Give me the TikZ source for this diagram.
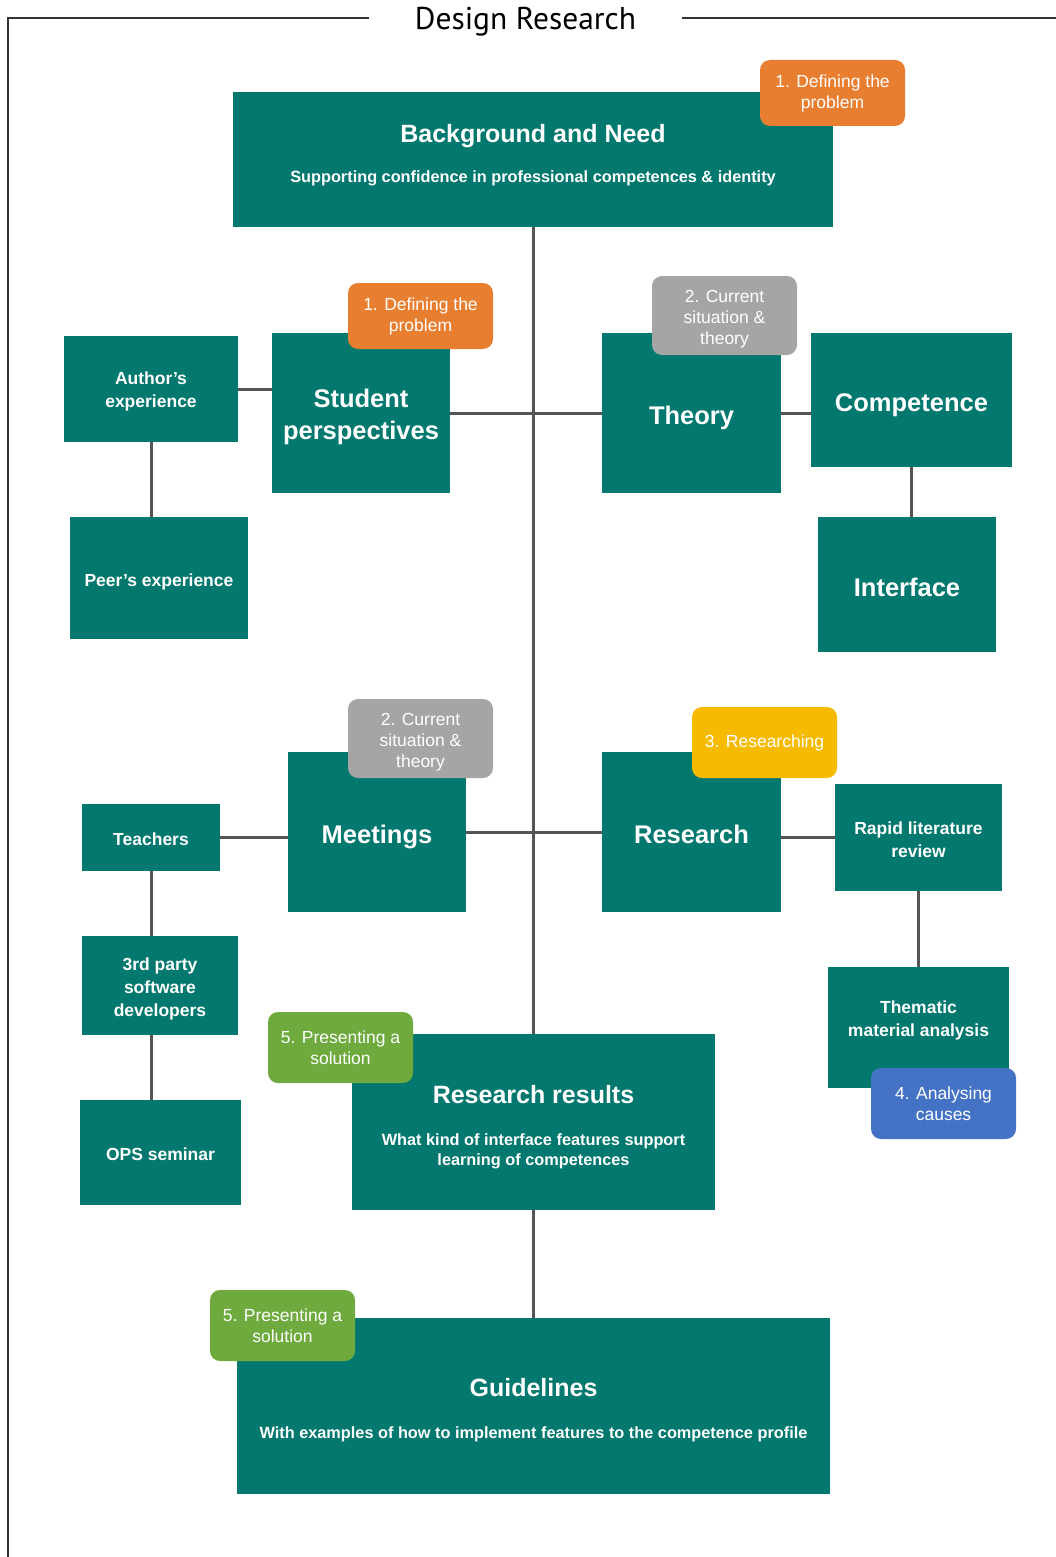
\documentclass[tikz,border=0pt]{standalone}
\usepackage{fontspec}
\setmainfont{Liberation Sans}
\newfontfamily\titlefont{PT Sans}
\usetikzlibrary{positioning,calc}
\definecolor{teal0}{RGB}{3,120,110}
\definecolor{tagorange}{RGB}{232,126,47}
\definecolor{taggray}{RGB}{165,165,165}
\definecolor{tagyellow}{RGB}{246,187,0}
\definecolor{taggreen}{RGB}{110,170,62}
\definecolor{tagblue}{RGB}{68,114,196}
\definecolor{linegray}{RGB}{85,85,85}
\definecolor{framegray}{RGB}{50,50,50}
\tikzset{
  box/.style={fill=teal0, text=white, align=center, inner sep=0pt},
  bigbox/.style={box, font=\fontsize{25.5}{32}\selectfont\bfseries},
  smallbox/.style={box, font=\fontsize{17.5}{23}\selectfont\bfseries},
  headbox/.style={box, font=\fontsize{16.3}{20}\selectfont\bfseries},
  oneline/.style={text depth=0pt},
  tag/.style={rounded corners=10pt, text=white, align=center, inner sep=0pt,
    minimum width=145pt, font=\fontsize{17.5}{21}\selectfont},
  link/.style={line width=3pt, draw=linegray},
  frame/.style={line width=1.5pt, draw=framegray},
}
\newcommand{\headtxt}[1]{{\fontsize{25}{30}\selectfont #1}}
% struts to nudge text inside a box: \dn pushes down, \up pushes up
\newcommand{\dn}[1]{\rule{0pt}{#1}}
\newcommand{\up}[1]{\rule[-#1]{0pt}{0pt}}

\begin{document}
\begin{tikzpicture}[x=1pt,y=-1pt]
  \useasboundingbox (0,0) rectangle (1056,1557);
  % frame and title
  \coordinate (tl) at (8,18);
  \node[font=\titlefont\fontsize{31.5}{36}\selectfont, inner xsep=46pt,
    anchor=base] (title) at (525.5,30) {Design Research};
  \draw[frame] (tl -| title.west) -- (tl) -- (8,1557);
  \draw[frame] (tl -| title.east) -- (1056,18);

  % main boxes
  \node[headbox, minimum width=600pt, minimum height=135pt] (bg) at (533,159.5)
    {\headtxt{Background and Need}\\[20pt]
     Supporting confidence in professional competences \& identity\up{12.5pt}};
  \node[bigbox, minimum width=178pt, minimum height=160pt] (stud) at (361,413)
    {\dn{27pt}Student\\perspectives};
  \node[bigbox, oneline, text height=23pt, minimum width=179pt,
    minimum height=160pt] (theo) at (691.5,413) {Theory};
  \node[bigbox, oneline, text height=23pt, minimum width=201pt,
    minimum height=134pt] (comp) at (911.5,400) {Competence};
  \node[bigbox, oneline, text height=23pt, minimum width=178pt,
    minimum height=135pt] (intf) at (907,584.5) {Interface};
  \node[bigbox, oneline, text height=23pt, minimum width=178pt,
    minimum height=160pt] (meet) at (377,832) {Meetings};
  \node[bigbox, oneline, text height=23pt, minimum width=179pt,
    minimum height=160pt] (resr) at (691.5,832) {Research};
  \node[headbox, minimum width=363pt, minimum height=176pt] (rr) at (533.5,1122)
    {\headtxt{\dn{28.3pt}Research results}\\[22pt]
     What kind of interface features support\\learning of competences};
  \node[headbox, minimum width=593pt, minimum height=176pt] (guide) at (533.5,1406)
    {\headtxt{\dn{26.3pt}Guidelines}\\[22pt]
     With examples of how to implement features to the competence profile};

  % side boxes
  \node[smallbox, minimum width=174pt, minimum height=106pt] (auth) at (151,389)
    {\dn{16.8pt}Author's\\experience};
  \node[smallbox, oneline, text height=16pt, minimum width=178pt,
    minimum height=122pt] (peer) at (159,578) {Peer's experience};
  \node[smallbox, oneline, text height=15.5pt, minimum width=138pt,
    minimum height=67pt] (teach) at (151,837.5) {Teachers};
  \node[smallbox, minimum width=156pt, minimum height=99pt] (third) at (160,985.5)
    {\dn{18.8pt}3rd party\\software\\developers};
  \node[smallbox, oneline, text height=15.5pt, minimum width=161pt,
    minimum height=105pt] (ops) at (160.5,1152.5) {OPS seminar};
  \node[smallbox, minimum width=167pt, minimum height=107pt] (rapid) at (918.5,837.5)
    {\dn{16.8pt}Rapid literature\\review};
  \node[smallbox, minimum width=181pt, minimum height=121pt] (them) at (918.5,1027.5)
    {Thematic\\material analysis\up{18pt}};

  % connectors
  \draw[link] (bg.south) -- (bg.south |- rr.north);
  \draw[link] (stud) -- (theo);
  \draw[link] (auth.east) -- (auth.east -| stud.west);
  \draw[link] (auth.south) -- (auth.south |- peer.north);
  \draw[link] (theo.east) -- (theo.east -| comp.west);
  \draw[link] (comp.south) -- (comp.south |- intf.north);
  \draw[link] (meet) -- (resr);
  \draw[link] (teach.east) -- (teach.east -| meet.west);
  \draw[link] (teach.south) -- (teach.south |- third.north);
  \draw[link] (third.south -| teach.south) -- (ops.north -| teach.south);
  \draw[link] (rapid.west) -- (rapid.west -| resr.east);
  \draw[link] (rapid) -- (them);
  \draw[link] (rr) -- (guide);

  % phase tags
  \node[tag, fill=tagorange, minimum height=66pt] (tag1a) at (832.5,93)
    {1. Defining the\\problem};
  \node[tag, fill=tagorange, minimum height=66pt] (tag1b) at (420.5,316)
    {1. Defining the\\problem};
  \node[tag, fill=taggray, minimum height=79pt] (tag2a) at (724.5,315.5)
    {\dn{18.8pt}2. Current\\situation \&\\theory};
  \node[tag, fill=taggray, minimum height=79pt] (tag2b) at (420.5,738.5)
    {\dn{18.8pt}2. Current\\situation \&\\theory};
  \node[tag, fill=tagyellow, minimum height=71pt] (tag3) at (764.5,742.5)
    {3. Researching};
  \node[tag, fill=tagblue, minimum height=71pt] (tag4) at (943.5,1103.5)
    {4. Analysing\\causes};
  \node[tag, fill=taggreen, minimum height=71pt] (tag5a) at (340.5,1047.5)
    {5. Presenting a\\solution};
  \node[tag, fill=taggreen, minimum height=71pt] (tag5b) at (282.5,1325.5)
    {5. Presenting a\\solution};
\end{tikzpicture}
\end{document}
